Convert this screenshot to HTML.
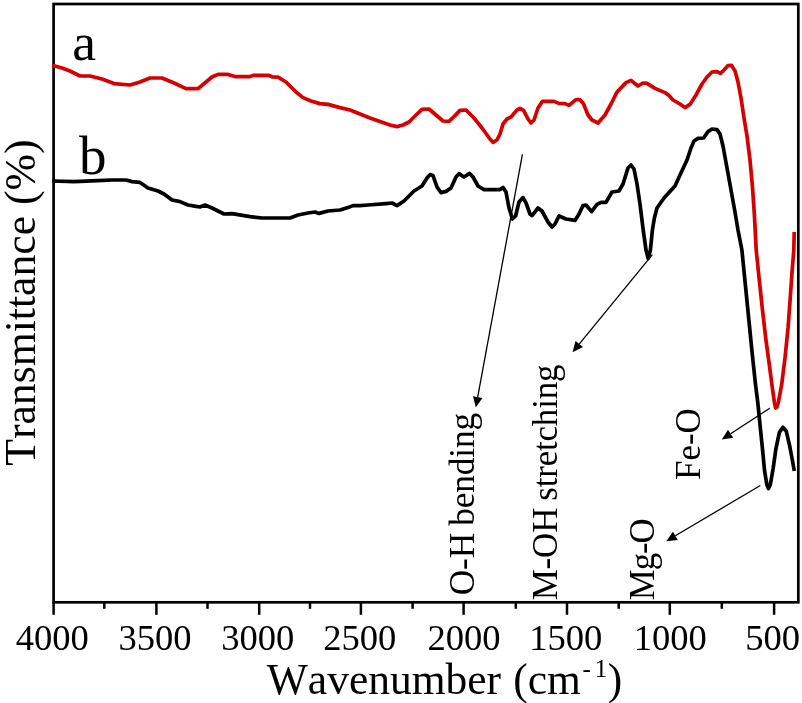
<!DOCTYPE html>
<html><head><meta charset="utf-8"><title>FTIR</title>
<style>
html,body{margin:0;padding:0;background:#fff;}
svg{display:block;}
text{font-family:"Liberation Serif",serif;fill:#000;font-kerning:none;}
</style></head><body>
<svg width="802" height="703" viewBox="0 0 802 703">
<rect x="0" y="0" width="802" height="703" fill="#fff"/>
<rect x="53.6" y="4.0" width="744.7" height="598.3" fill="none" stroke="#000" stroke-width="2.7"/>
<polyline points="52.2,65.3 62.0,68.0 70.0,71.0 80.0,76.0 90.0,76.0 102.0,79.0 114.0,83.6 130.0,85.0 140.0,82.0 150.0,78.0 162.0,78.0 174.0,83.0 186.0,88.6 198.0,88.6 206.0,82.0 212.0,77.0 218.0,74.4 228.0,74.4 235.0,76.6 250.0,76.6 253.0,75.4 269.0,75.4 272.0,76.8 278.0,77.2 286.0,82.0 296.0,92.0 303.0,97.6 311.0,101.0 320.0,103.6 328.0,104.4 340.0,107.6 350.0,110.0 360.0,114.0 370.0,118.0 380.0,121.6 390.0,125.0 397.0,126.6 403.0,125.0 409.0,122.0 416.0,115.0 422.0,109.4 429.0,109.0 436.0,115.0 443.0,121.0 449.0,121.4 455.0,115.6 460.0,110.4 466.0,110.0 474.0,118.0 482.0,128.0 490.0,139.0 493.0,142.4 497.0,140.0 500.0,134.0 503.0,124.0 507.0,119.0 511.0,117.0 517.0,110.0 520.0,108.4 523.6,110.4 528.0,119.0 531.0,123.0 534.0,120.0 538.0,108.0 542.4,101.4 554.0,101.4 559.0,103.4 565.0,103.6 569.0,105.4 576.0,99.6 580.0,99.6 583.6,104.0 588.0,115.0 592.0,120.0 598.0,123.0 605.0,115.0 611.0,104.0 617.0,92.0 626.0,82.6 631.0,80.4 638.0,86.0 643.0,83.0 647.0,83.4 655.0,88.4 665.0,92.6 669.0,95.6 673.0,100.0 680.0,104.0 685.0,107.6 690.0,104.4 696.0,95.0 702.0,84.0 707.0,77.0 712.0,72.0 717.0,71.6 720.4,73.4 724.0,70.0 728.0,65.6 731.6,65.4 735.0,71.0 738.0,82.0 741.0,98.0 744.0,118.0 747.0,136.0 750.0,160.0 752.4,186.0 754.4,215.0 756.2,250.0 759.0,277.3 762.4,309.2 765.8,338.8 769.2,363.9 772.2,386.7 774.4,402.6 775.6,408.0 777.0,407.0 778.3,402.6 781.7,384.4 785.1,357.0 788.1,327.4 790.4,295.6 792.0,272.8 793.8,250.0 794.2,232.0" fill="none" stroke="#d60000" stroke-width="3.7" stroke-linejoin="round" stroke-linecap="butt"/>
<polyline points="52.2,181.0 74.0,181.6 98.0,180.6 112.0,180.0 126.0,180.0 132.0,181.6 140.0,182.4 148.0,188.0 158.0,191.0 164.0,194.0 172.0,200.0 180.0,201.6 188.0,205.0 196.0,206.4 200.0,207.0 205.0,205.0 212.0,208.0 224.0,214.0 232.0,213.6 250.0,216.6 262.0,218.0 290.0,218.0 298.0,215.0 308.0,213.0 315.0,212.0 319.0,213.4 328.0,211.0 340.0,210.0 348.0,207.6 353.0,205.6 360.0,205.6 368.0,205.0 386.0,203.6 392.0,203.0 397.0,205.6 404.0,201.0 414.0,191.0 422.0,186.0 427.0,178.0 430.0,174.6 433.0,175.6 437.0,187.0 441.0,192.6 446.0,191.4 451.0,188.0 456.0,177.0 459.0,173.6 464.0,177.0 469.6,173.4 473.0,177.0 478.0,186.0 484.0,189.6 500.0,189.6 503.0,187.4 506.0,192.0 509.0,208.0 512.4,219.0 515.6,216.0 519.0,202.0 523.0,197.6 526.0,203.0 530.0,214.0 532.0,215.6 538.0,208.0 542.0,211.0 548.0,222.0 552.0,227.0 555.0,224.0 559.0,216.0 566.0,219.0 575.0,220.4 579.0,214.0 583.0,205.6 586.0,205.0 591.6,211.6 597.0,204.4 601.0,202.4 606.0,202.4 612.0,192.0 619.0,191.0 623.0,184.0 628.0,168.0 631.0,165.0 634.0,169.0 637.0,184.0 640.0,204.0 643.2,230.0 646.0,250.0 648.2,258.5 650.4,250.0 652.4,230.0 654.4,218.0 657.0,208.0 664.0,198.0 675.0,186.0 680.0,175.0 687.0,160.0 691.0,148.0 694.0,141.0 698.0,138.4 703.6,138.0 708.0,131.6 712.0,129.0 717.0,129.6 720.0,134.0 723.0,146.0 727.0,168.0 731.0,190.0 735.0,212.0 738.0,230.0 741.9,250.0 745.3,284.2 748.7,318.3 752.1,352.5 755.5,384.4 757.8,402.8 760.1,425.6 762.4,448.3 764.6,471.1 766.9,484.8 768.5,488.5 770.3,484.8 773.1,468.8 776.0,448.3 779.4,432.4 782.9,427.2 786.3,431.3 789.7,446.0 792.7,462.0 794.3,471.0" fill="none" stroke="#000" stroke-width="3.7" stroke-linejoin="round" stroke-linecap="butt"/>
<g stroke="#000" stroke-width="2.5"><line x1="53.6" y1="602.3" x2="53.6" y2="614.8" /><line x1="156.4" y1="602.3" x2="156.4" y2="614.8" /><line x1="259.2" y1="602.3" x2="259.2" y2="614.8" /><line x1="360.9" y1="602.3" x2="360.9" y2="614.8" /><line x1="463.6" y1="602.3" x2="463.6" y2="614.8" /><line x1="567.0" y1="602.3" x2="567.0" y2="614.8" /><line x1="669.8" y1="602.3" x2="669.8" y2="614.8" /><line x1="774.1" y1="602.3" x2="774.1" y2="614.8" /><line x1="104.3" y1="602.3" x2="104.3" y2="608.8" /><line x1="207.5" y1="602.3" x2="207.5" y2="608.8" /><line x1="310.0" y1="602.3" x2="310.0" y2="608.8" /><line x1="412.6" y1="602.3" x2="412.6" y2="608.8" /><line x1="515.8" y1="602.3" x2="515.8" y2="608.8" /><line x1="618.7" y1="602.3" x2="618.7" y2="608.8" /><line x1="721.8" y1="602.3" x2="721.8" y2="608.8" /></g>
<g font-size="35.5"><text transform="translate(52.2,650.3) scale(1.03,1)" text-anchor="middle">4000</text><text transform="translate(155.0,650.3) scale(1.03,1)" text-anchor="middle">3500</text><text transform="translate(257.8,650.3) scale(1.03,1)" text-anchor="middle">3000</text><text transform="translate(359.7,650.3) scale(1.03,1)" text-anchor="middle">2500</text><text transform="translate(464.1,650.3) scale(1.03,1)" text-anchor="middle">2000</text><text transform="translate(565.8,650.3) scale(1.03,1)" text-anchor="middle">1500</text><text transform="translate(670.2,650.3) scale(1.03,1)" text-anchor="middle">1000</text><text transform="translate(772.7,650.3) scale(1.03,1)" text-anchor="middle">500</text></g>
<line x1="522.4" y1="154.4" x2="477.7" y2="397.1" stroke="#000" stroke-width="1.3"/><polygon points="475.8,407.4 473.0,396.2 482.4,397.9" fill="#000"/>
<line x1="652.4" y1="254.6" x2="579.2" y2="344.1" stroke="#000" stroke-width="1.3"/><polygon points="572.6,352.2 575.5,341.0 583.0,347.1" fill="#000"/>
<line x1="769.7" y1="408.2" x2="730.6" y2="433.8" stroke="#000" stroke-width="1.3"/><polygon points="721.8,439.5 728.0,429.7 733.2,437.8" fill="#000"/>
<line x1="760.3" y1="485.5" x2="675.3" y2="535.8" stroke="#000" stroke-width="1.3"/><polygon points="666.3,541.2 672.9,531.7 677.8,540.0" fill="#000"/>
<text x="72.2" y="59.9" font-size="53.5">a</text>
<text x="79" y="173.8" font-size="55">b</text>
<text transform="translate(474.1,595.3) rotate(-90)" font-size="35.35" letter-spacing="-0.15" word-spacing="-1.5">O-H bending</text>
<text transform="translate(557.3,600.3) rotate(-90)" font-size="35" letter-spacing="-0.2" word-spacing="-1.5">M-OH stretching</text>
<text transform="translate(654.4,600.2) rotate(-90) scale(1,1.01)" font-size="34.7" letter-spacing="-1">Mg-O</text>
<text transform="translate(699.5,480.0) rotate(-90) scale(1,1.02)" font-size="34.9">Fe-O</text>
<text transform="translate(35.4,465.8) rotate(-90) scale(1,1.01)" font-size="43.7">Transmittance (%)</text>
<text x="266.8" y="694.4" font-size="43.5" word-spacing="1.2">Wavenumber (cm<tspan font-size="25" dy="-17" dx="1.8">-</tspan><tspan font-size="25" dx="3.8">1</tspan><tspan dy="17" dx="0.5">)</tspan></text>
</svg>
</body></html>
